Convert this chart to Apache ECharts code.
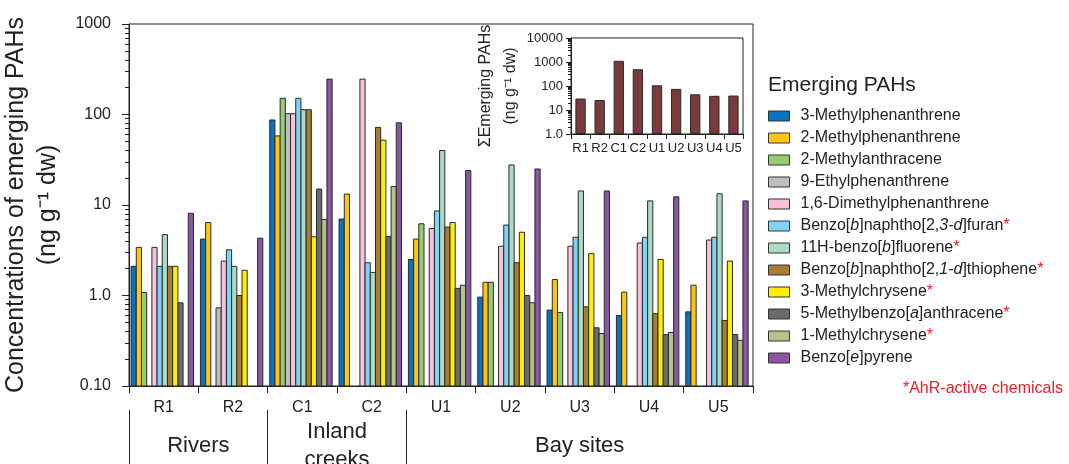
<!DOCTYPE html>
<html>
<head>
<meta charset="utf-8">
<script src="https://cdn.jsdelivr.net/npm/echarts@6/dist/echarts.min.js"></script>
<style>
  html, body { margin: 0; padding: 0; background: #fff; }
  #chart { width: 1069px; height: 464px; }
</style>
</head>
<body>
<div id="chart"></div>
<script>
// sites on the x axis
const SITES = ['R1', 'R2', 'C1', 'C2', 'U1', 'U2', 'U3', 'U4', 'U5'];
const GROUPS = ['Rivers', 'Inland\ncreeks', 'Bay sites'];

// concentrations (ng/g dw), null = not detected
const mePhe3   = [2.1, 4.2, 87, 7.0, 2.5, 0.96, 0.69, 0.60, 0.66];
const mePhe2   = [3.4, 6.4, 58, 13.2, 4.2, 1.4, 1.5, 1.09, 1.3];
const meAnt2   = [1.08, null, 151, null, 6.2, 1.4, 0.65, null, null];
const etPhe9   = [null, 0.73, 102, null, null, null, null, null, null];
const diMePhe  = [3.4, 2.4, 102, 246, 5.5, 3.5, 3.5, 3.8, 4.1];
const bnFuran  = [2.1, 3.2, 151, 2.3, 8.6, 6.0, 4.4, 4.4, 4.4];
const hBzFluor = [4.7, 2.1, 113, 1.8, 40, 27.7, 14.3, 11.1, 13.3];
const bnThioph = [2.1, 1.0, 113, 72, 5.7, 2.3, 0.75, 0.63, 0.53];
const meChr3   = [2.1, 1.9, 4.45, 52, 6.4, 5.0, 2.9, 2.5, 2.4];
const meBaA5   = [0.83, null, 15, 4.5, 1.2, 1.0, 0.44, 0.37, 0.37];
const meChr1   = [null, null, 6.9, 16, 1.3, 0.83, 0.38, 0.39, 0.32];
const bzePyr   = [8.1, 4.3, 246, 81, 24, 25, 14.3, 12.3, 11.1];

// inset: sum of emerging PAHs
const sumPAHs = [30, 26, 1120, 500, 107, 76, 45, 39, 40];

const NAMES = [
  '3-Methylphenanthrene', '2-Methylphenanthrene', '2-Methylanthracene',
  '9-Ethylphenanthrene', '1,6-Dimethylphenanthrene', 'Benzo[b]naphtho[2,3-d]furan*',
  '11H-benzo[b]fluorene*', 'Benzo[b]naphtho[2,1-d]thiophene*', '3-Methylchrysene*',
  '5-Methylbenzo[a]anthracene*', '1-Methylchrysene*', 'Benzo[e]pyrene'
];
// legend text with italics / red asterisk
const LABELS = [
  '3-Methylphenanthrene', '2-Methylphenanthrene', '2-Methylanthracene',
  '9-Ethylphenanthrene', '1,6-Dimethylphenanthrene', 'Benzo[{i|b}]naphtho[2,{i|3-d}]furan{r|*}',
  '11H-benzo[{i|b}]fluorene{r|*}', 'Benzo[{i|b}]naphtho[2,{i|1-d}]thiophene{r|*}', '3-Methylchrysene{r|*}',
  '5-Methylbenzo[{i|a}]anthracene{r|*}', '1-Methylchrysene{r|*}', 'Benzo[{i|e}]pyrene'
];
const VALUES = [mePhe3, mePhe2, meAnt2, etPhe9, diMePhe, bnFuran, hBzFluor, bnThioph, meChr3, meBaA5, meChr1, bzePyr];
const COLORS = ['#0A72BE', '#FFC512', '#96CD72', '#BDBEC0', '#F8C1DA', '#7FD3F7',
                '#AADCC4', '#A87C33', '#FFF000', '#6B6B6B', '#B5C58A', '#8B57A3'];

const FONT = '"Liberation Sans", Arial, Helvetica, sans-serif';
const INK = '#222';
const Y_MIN = 0.1, Y_MAX = 1000;

// minor log ticks, in log10 units (drawn on a hidden linear axis)
function minorTicks(lo, hi) {
  const out = [];
  for (let d = lo; d < hi; d *= 10) {
    for (let k = 2; k <= 9; k++) out.push(Math.log10(k * d));
  }
  return out;
}

// grouped bars that start at the bottom of the log axis
function barRender(idx) {
  return function (params, api) {
    const v = api.value(1);
    if (v == null || isNaN(v)) return;
    const cat = api.value(0);
    const top = api.coord([cat, v]);
    const base = api.coord([cat, Y_MIN]);
    const band = api.size([1, 0])[0];
    const w = band * 0.9 / VALUES.length;
    const x = top[0] - band * 0.47 + idx * w;
    return {
      type: 'rect',
      shape: { x: x, y: top[1], width: w, height: base[1] - top[1] },
      style: api.style()
    };
  };
}

const chart = echarts.init(document.getElementById('chart'));

const option = {
  animation: false,
  textStyle: { fontFamily: FONT, color: INK },
  title: [
    { text: 'Emerging PAHs', left: 763, top: 70,
      textStyle: { fontSize: 21, fontWeight: 'normal', color: INK, fontFamily: FONT } },
    { text: '*AhR-active chemicals', right: 1, top: 376,
      textStyle: { fontSize: 16, fontWeight: 'normal', color: '#E8202A', fontFamily: FONT } }
  ],
  legend: {
    orient: 'vertical',
    left: 768, top: 108,
    padding: 0,
    itemWidth: 21, itemHeight: 10, itemGap: 6,
    icon: 'rect',
    itemStyle: { borderColor: '#333', borderWidth: 1 },
    data: NAMES,
    formatter: name => LABELS[NAMES.indexOf(name)],
    textStyle: {
      fontSize: 16, lineHeight: 16, color: INK, fontFamily: FONT, padding: [0, 0, 0, 6],
      rich: {
        i: { fontStyle: 'italic', fontSize: 16, lineHeight: 16, color: INK, fontFamily: FONT },
        r: { color: '#E8202A', fontSize: 16, lineHeight: 16, fontFamily: FONT }
      }
    }
  },
  grid: [
    { left: 129, right: 316, top: 24, bottom: 78, show: true, borderColor: INK, borderWidth: 1,
      outerBoundsMode: 'none' },
    { left: 571, right: 326, top: 38, bottom: 330, show: true, borderColor: INK, borderWidth: 1,
      outerBoundsMode: 'none' }
  ],
  xAxis: [
    {
      gridIndex: 0, type: 'category', data: SITES,
      axisLine: { onZero: false, lineStyle: { color: INK, width: 1 } },
      axisTick: { show: true, length: 7, inside: false, alignWithLabel: false, lineStyle: { color: INK } },
      axisLabel: { fontSize: 16, color: INK, margin: 14, interval: 0 },
      splitLine: { show: false }
    },
    {
      // group labels and separators below the site names
      gridIndex: 0, type: 'value', min: 0, max: 9, position: 'bottom', offset: 24,
      axisLine: { show: false, onZero: false },
      axisTick: { show: true, length: 56, inside: false, customValues: [0, 2, 4], lineStyle: { color: INK } },
      axisLabel: {
        fontSize: 22, lineHeight: 28, color: INK, margin: 36, verticalAlign: 'middle',
        customValues: [1, 3, 6.5],
        formatter: v => GROUPS[[1, 3, 6.5].indexOf(v)]
      },
      splitLine: { show: false }
    },
    {
      gridIndex: 1, type: 'category', data: SITES,
      axisLine: { onZero: false, lineStyle: { color: INK, width: 1 } },
      axisTick: { show: true, length: 5, inside: false, lineStyle: { color: INK } },
      axisLabel: { fontSize: 13, color: INK, margin: 8, interval: 0 },
      splitLine: { show: false }
    }
  ],
  yAxis: [
    {
      gridIndex: 0, type: 'log', logBase: 10, min: Y_MIN, max: Y_MAX, position: 'left',
      name: 'Concentrations of emerging PAHs\n(ng g\u207B\u00B9 dw)',
      nameLocation: 'middle', nameGap: 60,
      nameTextStyle: { fontSize: 25, lineHeight: 32, color: INK, fontFamily: FONT, align: 'center' },
      axisLine: { show: true, onZero: false, lineStyle: { color: INK, width: 1 } },
      axisTick: { show: true, length: 7, inside: false, lineStyle: { color: INK } },
      axisLabel: {
        fontSize: 16, color: INK, margin: 18,
        formatter: v => v < 1 ? v.toFixed(2) : v < 10 ? v.toFixed(1) : String(Math.round(v))
      },
      splitLine: { show: false }
    },
    {
      // minor ticks of the main log axis
      gridIndex: 0, type: 'value', min: -1, max: 3, position: 'left',
      axisLine: { show: false, onZero: false },
      axisTick: { show: true, length: 4, inside: false, customValues: minorTicks(0.1, 1000), lineStyle: { color: INK } },
      axisLabel: { show: false },
      splitLine: { show: false }
    },
    {
      gridIndex: 1, type: 'log', logBase: 10, min: 1, max: 10000, position: 'left',
      name: '\u03A3Emerging PAHs\n(ng g\u207B\u00B9 dw)',
      nameLocation: 'middle', nameGap: 41,
      nameTextStyle: { fontSize: 16, lineHeight: 25, color: INK, fontFamily: FONT, align: 'center' },
      axisLine: { show: true, onZero: false, lineStyle: { color: INK, width: 1 } },
      axisTick: { show: true, length: 5, inside: false, lineStyle: { color: INK } },
      axisLabel: {
        fontSize: 13, color: INK, margin: 8,
        formatter: v => v < 10 ? v.toFixed(1) : String(Math.round(v))
      },
      splitLine: { show: false }
    },
    {
      // minor ticks of the inset log axis
      gridIndex: 1, type: 'value', min: 0, max: 4, position: 'left',
      axisLine: { show: false, onZero: false },
      axisTick: { show: true, length: 3, inside: false, customValues: minorTicks(1, 10000), lineStyle: { color: INK } },
      axisLabel: { show: false },
      splitLine: { show: false }
    }
  ],
  series: VALUES.map((vals, i) => ({
    name: NAMES[i],
    type: 'custom',
    xAxisIndex: 0, yAxisIndex: 0,
    renderItem: barRender(i),
    itemStyle: { color: COLORS[i], borderColor: '#2a2a2a', borderWidth: 1 },
    encode: { x: 0, y: 1 },
    data: vals.map((v, k) => [k, v == null ? '-' : v])
  })).concat([{
    name: 'ΣEmerging PAHs',
    type: 'bar',
    xAxisIndex: 2, yAxisIndex: 2,
    barCategoryGap: '46%',
    itemStyle: { color: '#7B3A3C', borderColor: '#2a2a2a', borderWidth: 1 },
    data: sumPAHs
  }])
};

chart.setOption(option);
</script>
</body>
</html>
